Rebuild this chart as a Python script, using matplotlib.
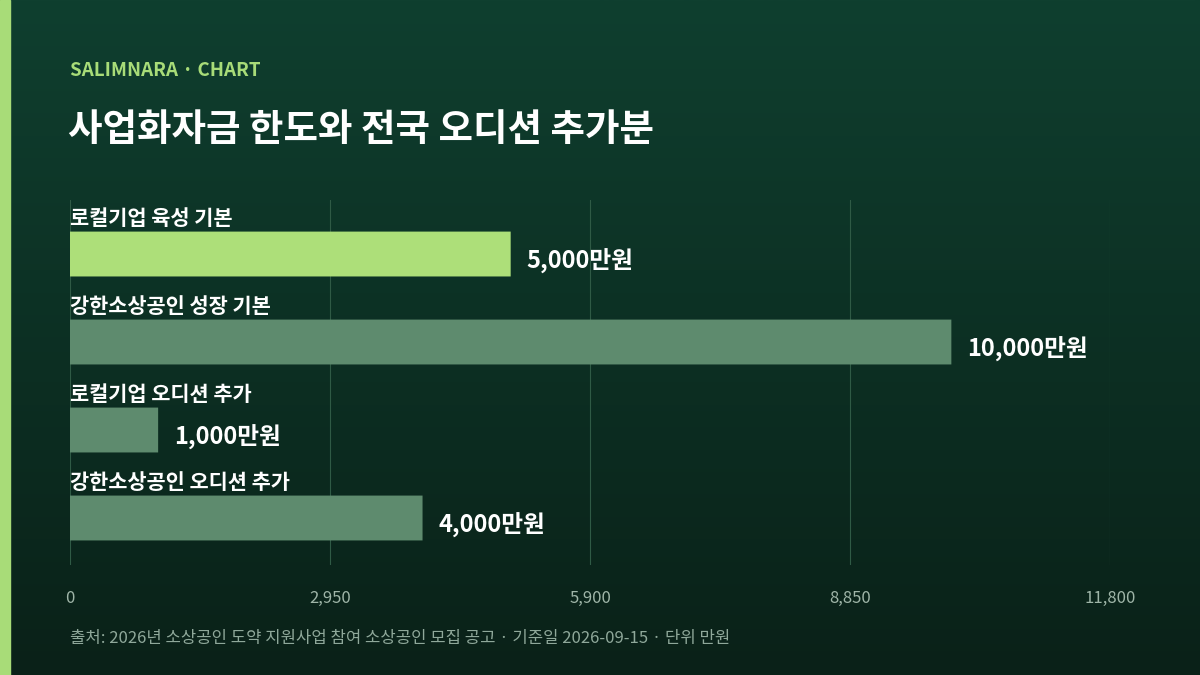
import matplotlib
matplotlib.use("Agg")
import matplotlib.pyplot as plt
import numpy as np

plt.rcParams['font.family'] = ['Noto Sans CJK KR', 'DejaVu Sans']

categories = ["로컬기업 육성 기본", "강한소상공인 성장 기본", "로컬기업 오디션 추가", "강한소상공인 오디션 추가"]
values = [5000, 10000, 1000, 4000]
value_labels = ["5,000만원", "10,000만원", "1,000만원", "4,000만원"]
ticks = [0, 2950, 5900, 8850, 11800]
tick_labels = ["0", "2,950", "5,900", "8,850", "11,800"]

W, H = 1200, 675
fig = plt.figure(figsize=(12, 6.75), dpi=100)
bg = fig.add_axes([0, 0, 1, 1])
grad = np.linspace(0, 1, 256).reshape(-1, 1)
from matplotlib.colors import LinearSegmentedColormap
cm = LinearSegmentedColormap.from_list("g", ["#0f3f2f", "#0a2118"])
bg.imshow(grad, aspect='auto', cmap=cm, extent=[0, 1, 0, 1], origin='upper')
bg.add_patch(plt.Rectangle((0, 0), 10 / W, 1, color="#a8dc78", transform=bg.transAxes))
bg.set_axis_off()

def fy(p): return 1 - p / H
def fx(p): return p / W

ax = fig.add_axes([fx(70), fy(565), fx(1110) - fx(70), (565 - 200) / H])
ax.set_facecolor("none")
ax.set_xlim(0, 11800)
ax.set_ylim(3.534, -0.614)
for t in ticks:
    ax.axvline(t, color="#2f5a45", lw=0.8, zorder=0)
colors = ["#addf79"] + ["#5e8b6e"] * 3
ypos = np.arange(len(values))
from matplotlib.patches import FancyBboxPatch
for i, (v, c) in enumerate(zip(values, colors)):
    ax.add_patch(FancyBboxPatch((0, i - 0.255), v, 0.51, boxstyle="round,pad=0,rounding_size=0.05",
                                mutation_aspect=1/ (11800/1040*88/1), fc=c, ec="none", zorder=2))
    ax.text(v + 180, i + 0.08, value_labels[i], color="white", fontsize=17, fontweight='bold',
            va='center', ha='left')
    ax.text(0, i - 0.40, categories[i], color="white", fontsize=15, fontweight='bold',
            va='center', ha='left')
ax.set_xticks(ticks)
ax.set_xticklabels(tick_labels, color="#9fb5a8", fontsize=12)
ax.tick_params(length=0, pad=18)
ax.set_yticks([])
for s in ax.spines.values():
    s.set_visible(False)

fig.text(fx(70), fy(71), "SALIMNARA · CHART", color="#a8dc78", fontsize=13.5, fontweight='bold', va='center')
fig.text(fx(68), fy(130), "사업화자금 한도와 전국 오디션 추가분", color="white", fontsize=27, fontweight='bold', va='center')
fig.text(fx(70), fy(638), "출처: 2026년 소상공인 도약 지원사업 참여 소상공인 모집 공고 · 기준일 2026-09-15 · 단위 만원",
         color="#8fa89a", fontsize=12, va='center')
fig.savefig("out.png", dpi=100)
